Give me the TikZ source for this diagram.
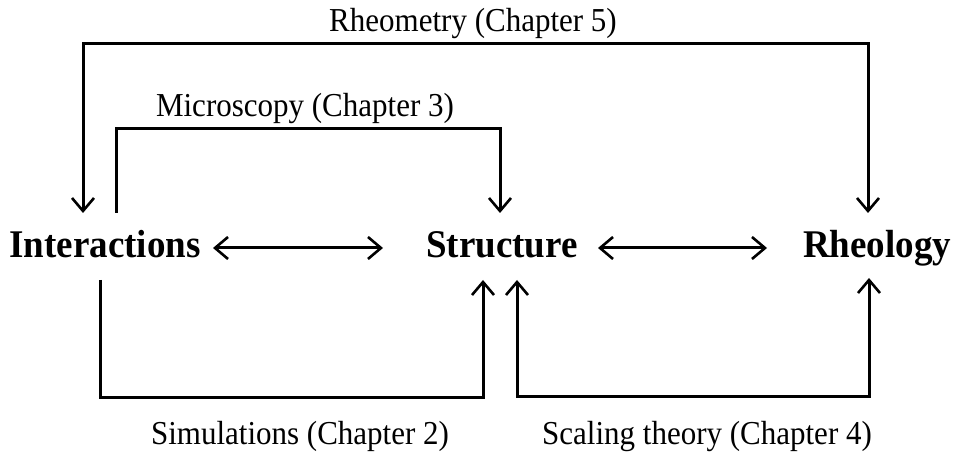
\documentclass[tikz,border=0pt]{standalone}
\usepackage{fontspec}
\setmainfont{Liberation Serif}
\usetikzlibrary{arrows.meta}
\begin{document}
\begin{tikzpicture}[x=1pt,y=1pt,
  tipb/.tip={Straight Barb[length=13pt,width=22pt,line width=2.6pt]},
  conn/.style={line width=3pt,line cap=butt,line join=miter,-tipb},
  both/.style={conn,tipb-tipb},
  big/.style={font=\fontsize{37}{44}\selectfont\bfseries,inner sep=0pt,anchor=base,yscale=1.06},
  lab/.style={font=\fontsize{31}{36}\selectfont,inner sep=0pt,anchor=base,yscale=1.08}]
\useasboundingbox (0,0) rectangle (954,455);
% main nodes
\node[big] (I) at (105,197) {Interactions};
\node[big] (S) at (502,197) {Structure};
\node[big] (R) at (877,197) {Rheology};
% labels
\node[lab] (L5) at (473,423) {Rheometry (Chapter 5)};
\node[lab] (L3) at (305,338) {Microscopy (Chapter 3)};
\node[lab] (L2) at (300,10) {Simulations (Chapter 2)};
\node[lab] (L4) at (707,10) {Scaling theory (Chapter 4)};
% end points and levels
\coordinate (a1) at (83,242);
\coordinate (a2) at (868,242);
\coordinate (m1) at (116,242);
\coordinate (m2) at (500,242);
\coordinate (s1) at (100,175);
\coordinate (s2) at (483,175);
\coordinate (c1) at (517,175);
\coordinate (c2) at (869,177);
\coordinate (t5) at (0,411);
\coordinate (t3) at (0,326);
\coordinate (b2) at (0,57);
\coordinate (b4) at (0,58);
\coordinate (h1) at (213,207);
\coordinate (h2) at (383,207);
\coordinate (h3) at (598,207);
\coordinate (h4) at (767,207);
% connectors
\draw[both] (h1) -- (h2);
\draw[both] (h3) -- (h4);
\draw[both] (a1) -- (a1 |- t5) -- (a2 |- t5) -- (a2);
\draw[conn] (m1) -- (m1 |- t3) -- (m2 |- t3) -- (m2);
\draw[conn] (s1) -- (s1 |- b2) -- (s2 |- b2) -- (s2);
\draw[both] (c1) -- (c1 |- b4) -- (c2 |- b4) -- (c2);
\end{tikzpicture}
\end{document}
